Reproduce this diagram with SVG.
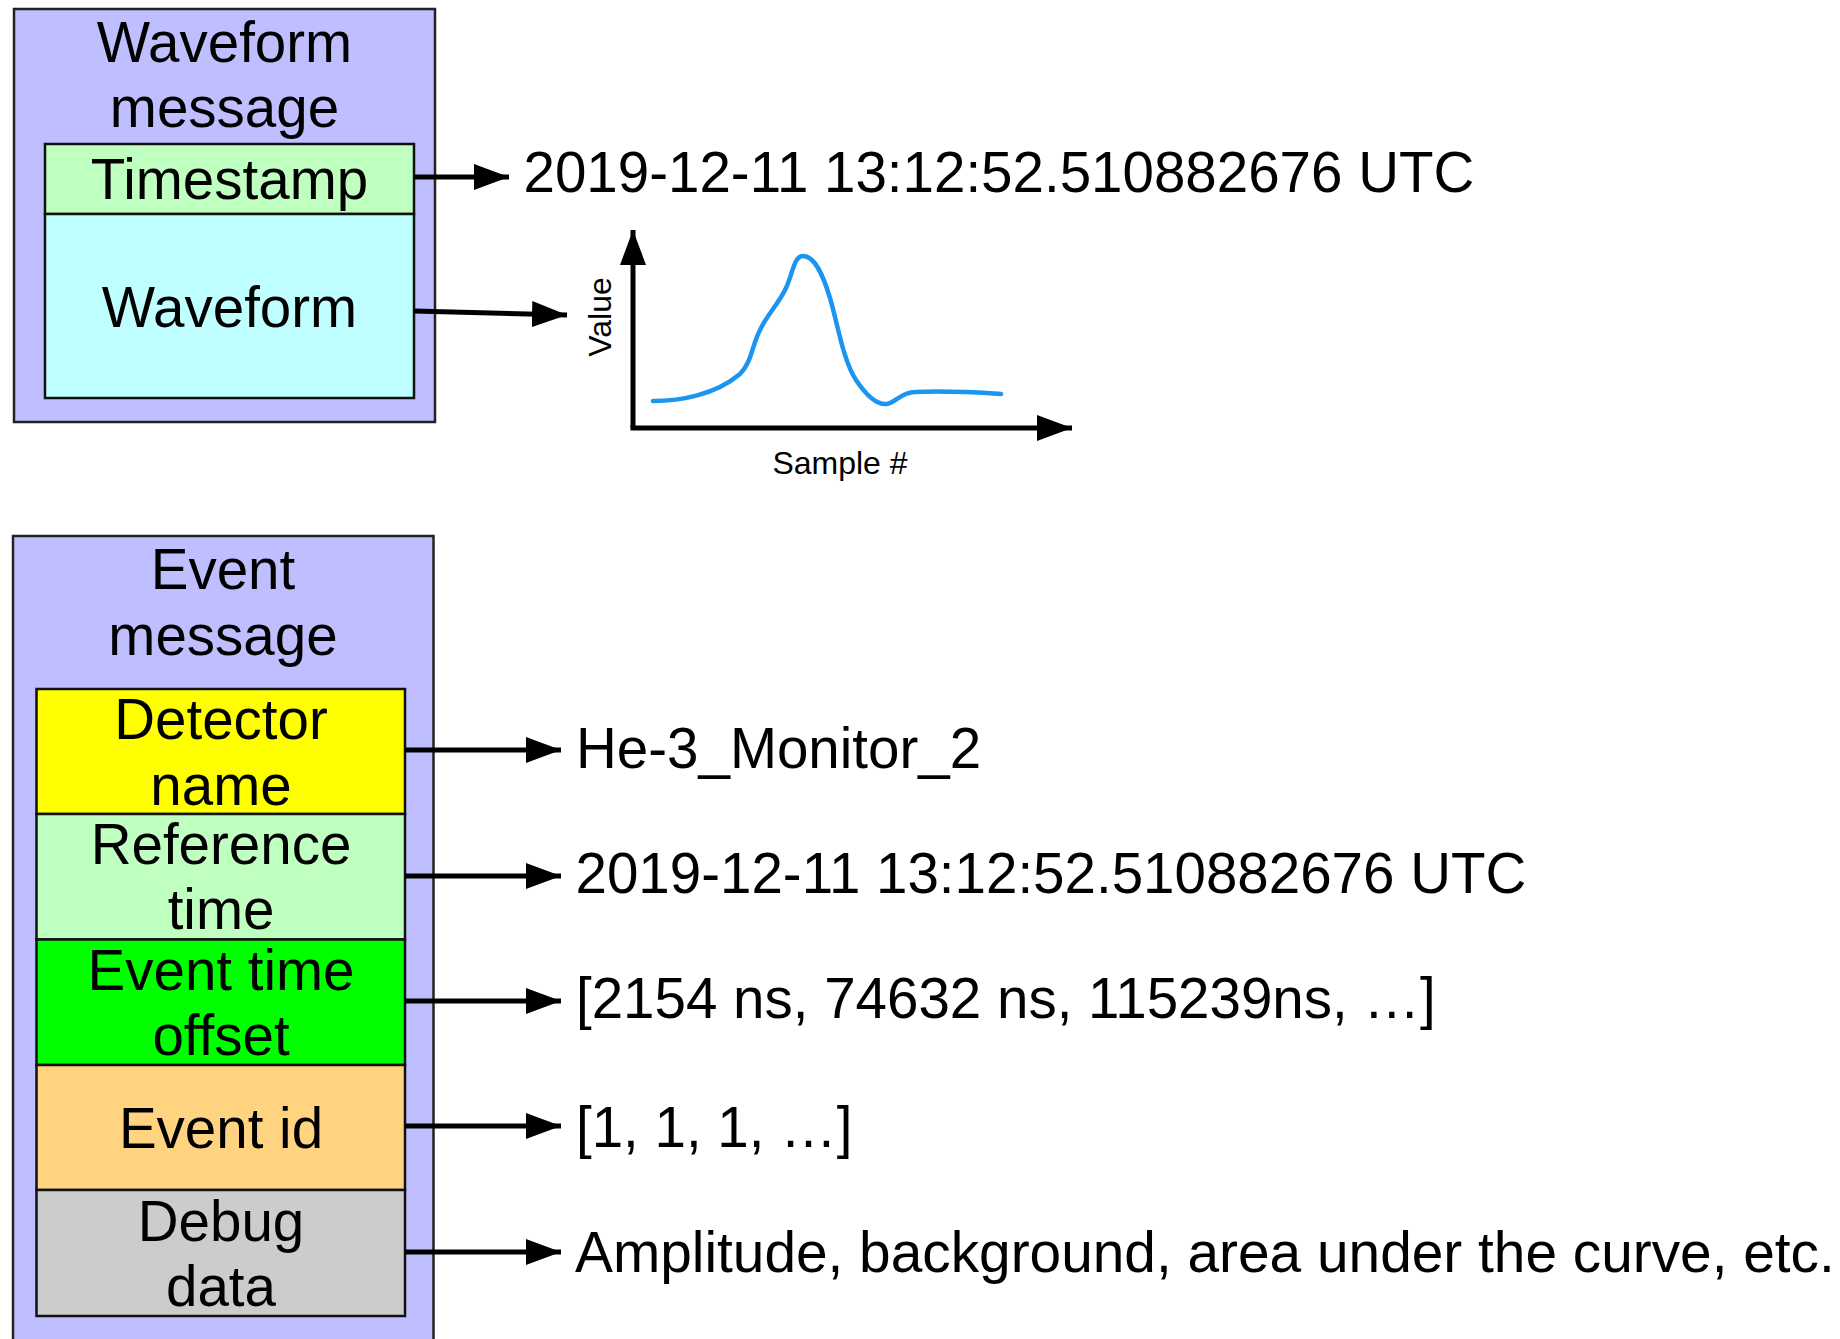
<svg xmlns="http://www.w3.org/2000/svg" width="1840" height="1339" viewBox="0 0 1840 1339">
<style>
text{font-family:"Liberation Sans",Arial,Helvetica,sans-serif;fill:#000}
.big{font-size:56.5px}
.mid{text-anchor:middle}
.small{font-size:32px}
.outer{fill:#BFBFFF;stroke:#222;stroke-width:2.5}
.cell{stroke:#111;stroke-width:2.5}
.conn{stroke:#000;stroke-width:5;fill:none}
</style>
<defs>
<marker id="ah" markerUnits="userSpaceOnUse" markerWidth="36" markerHeight="27" refX="35" refY="13" orient="auto">
<path d="M0,0 L35,13 L0,26 z" fill="#000"/>
</marker>
</defs>
<rect width="1840" height="1339" fill="#fff"/>

<g id="waveform-message">
<rect class="outer" x="14" y="9" width="421" height="413"/>
<text class="big mid" x="224.5" y="62">Waveform</text>
<text class="big mid" x="224.5" y="127">message</text>
</g>
<g id="timestamp">
<rect class="cell" x="45" y="144" width="369" height="70" fill="#BFFFBF"/>
<text class="big mid" x="229.5" y="199">Timestamp</text>
</g>
<g id="waveform">
<rect class="cell" x="45" y="214" width="369" height="184" fill="#BFFFFF"/>
<text class="big mid" x="229.5" y="327">Waveform</text>
</g>

<g id="event-message">
<rect class="outer" x="13" y="536" width="420.5" height="815"/>
<text class="big mid" x="223" y="589">Event</text>
<text class="big mid" x="223" y="655">message</text>
</g>
<g id="detector-name">
<rect class="cell" x="36.5" y="689" width="368.5" height="125" fill="#FFFF00"/>
<text class="big mid" x="221" y="739">Detector</text>
<text class="big mid" x="221" y="805">name</text>
</g>
<g id="reference-time">
<rect class="cell" x="36.5" y="814" width="368.5" height="125.5" fill="#BFFFBF"/>
<text class="big mid" x="221" y="864">Reference</text>
<text class="big mid" x="221" y="929">time</text>
</g>
<g id="event-time-offset">
<rect class="cell" x="36.5" y="939.5" width="368.5" height="125.5" fill="#00FF00"/>
<text class="big mid" x="221" y="990">Event time</text>
<text class="big mid" x="221" y="1055">offset</text>
</g>
<g id="event-id">
<rect class="cell" x="36.5" y="1065" width="368.5" height="125" fill="#FFD37F"/>
<text class="big mid" x="221" y="1148">Event id</text>
</g>
<g id="debug-data">
<rect class="cell" x="36.5" y="1190" width="368.5" height="126" fill="#CCCCCC"/>
<text class="big mid" x="221" y="1241">Debug</text>
<text class="big mid" x="221" y="1306">data</text>
</g>

<g id="timestamp-value">
<text class="big" x="523.5" y="192">2019-12-11 13:12:52.510882676 UTC</text>
</g>
<g id="waveform-plot">
<line class="conn" x1="633" y1="428" x2="633" y2="230" marker-end="url(#ah)"/>
<line class="conn" x1="630.5" y1="428" x2="1072" y2="428" marker-end="url(#ah)"/>
<path d="M653,401 C680,401 715,395 740,374 C752,362 752,345 760,330 C768,313 778,305 786,288 C793,273 794,256 803,256 C815,256 823,275 830,298 C838,325 843,360 856,380 C868,398 878,405 887,404 C896,402 902,392 915,392 C940,391 970,392 1001,394" fill="none" stroke="#1A96F0" stroke-width="4.5" stroke-linecap="round" stroke-linejoin="round"/>
<text class="small mid" transform="translate(611,317) rotate(-90)">Value</text>
<text class="small mid" x="840" y="474">Sample #</text>
</g>
<g id="detector-value"><text class="big" x="576" y="768">He-3_Monitor_2</text></g>
<g id="reference-value"><text class="big" x="575.5" y="893">2019-12-11 13:12:52.510882676 UTC</text></g>
<g id="offset-value"><text class="big" x="576" y="1018">[2154 ns, 74632 ns, 115239ns, …]</text></g>
<g id="id-value"><text class="big" x="576" y="1147">[1, 1, 1, …]</text></g>
<g id="debug-value"><text class="big" x="575" y="1272" style="font-size:56.8px">Amplitude, background, area under the curve, etc.</text></g>

<g id="connectors">
<line class="conn" x1="414" y1="177" x2="509" y2="177" marker-end="url(#ah)"/>
<line class="conn" x1="414" y1="311" x2="567" y2="315" marker-end="url(#ah)"/>
<line class="conn" x1="405" y1="750" x2="561" y2="750" marker-end="url(#ah)"/>
<line class="conn" x1="405" y1="876" x2="561" y2="876" marker-end="url(#ah)"/>
<line class="conn" x1="405" y1="1001" x2="561" y2="1001" marker-end="url(#ah)"/>
<line class="conn" x1="405" y1="1126" x2="561" y2="1126" marker-end="url(#ah)"/>
<line class="conn" x1="405" y1="1252" x2="561" y2="1252" marker-end="url(#ah)"/>
</g>
</svg>
